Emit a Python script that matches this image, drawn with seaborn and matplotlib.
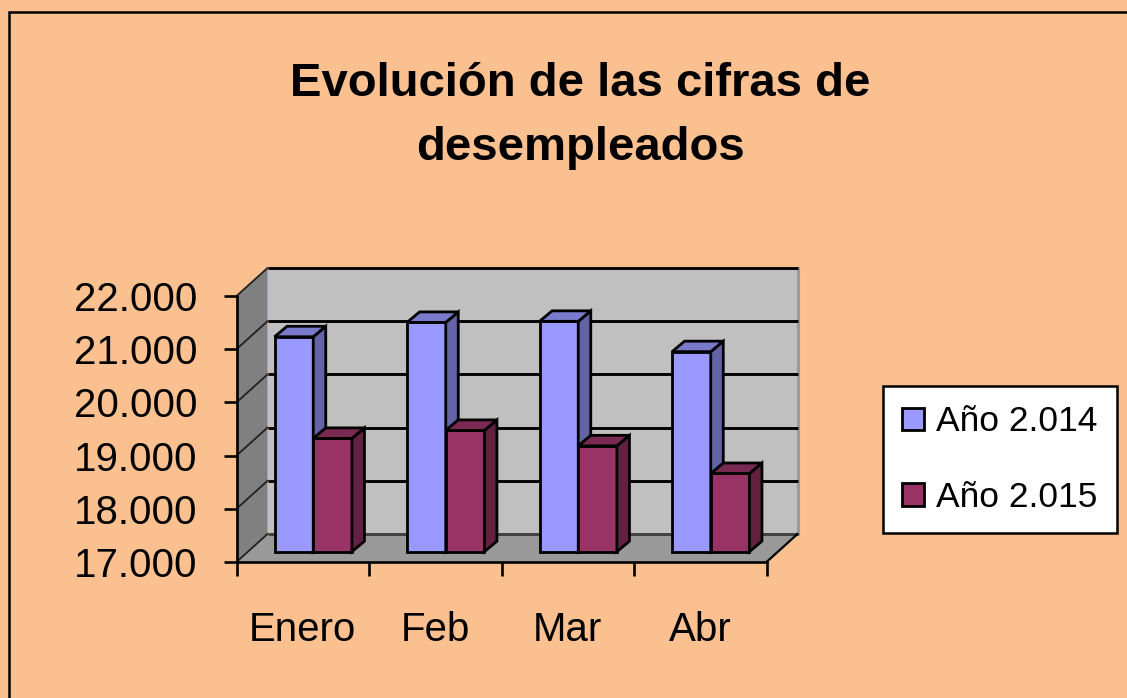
import matplotlib
matplotlib.use("Agg")
import matplotlib.pyplot as plt
import seaborn as sns
import pandas as pd
import numpy as np
from matplotlib import font_manager as fm
from matplotlib.patches import Polygon, Rectangle, Patch
from matplotlib.lines import Line2D
from matplotlib.transforms import ScaledTranslation
from matplotlib.ticker import FixedLocator, FuncFormatter
import matplotlib.colors as mcolors

# ---------------- data ----------------
months = ["Enero", "Feb", "Mar", "Abr"]
series = ["Año 2.014", "Año 2.015"]
values_2014 = [21040, 21310, 21330, 20760]
values_2015 = [19130, 19280, 18990, 18470]
y_ticks = [17000, 18000, 19000, 20000, 21000, 22000]
title = "Evolución de las cifras de\ndesempleados"
colors = {"Año 2.014": "#9999FF", "Año 2.015": "#993366"}

df = pd.DataFrame({
    "Mes": months * 2,
    "Valor": values_2014 + values_2015,
    "Serie": [series[0]] * 4 + [series[1]] * 4,
})

# ---------------- fonts ----------------
names = {f.name for f in fm.fontManager.ttflist}
NARROW = "Liberation Sans Narrow" in names
if NARROW:
    lab_font = ["Liberation Sans Narrow", "Liberation Sans", "DejaVu Sans"]
    YS, XS, LS = 32, 34, 30
else:
    lab_font = ["Liberation Sans", "DejaVu Sans"]
    YS, XS, LS = 29, 29, 25.5
title_font = ["Liberation Sans", "DejaVu Sans"]

BG = "#FAC090"
W, H = 1127, 698
fig = plt.figure(figsize=(W / 100, H / 100), dpi=100, facecolor=BG)

# front plane of the 3D box (pixels in image coordinates)
FX0, FX1 = 236.5, 766.5
FY_TOP, FY_BOT = 296.0, 562.0
ax = fig.add_axes([FX0 / W, 1 - FY_BOT / H, (FX1 - FX0) / W, (FY_BOT - FY_TOP) / H])
ax.set_facecolor("none")

YMIN, YMAX = y_ticks[0], y_ticks[-1]
XMIN, XMAX = -0.5, len(months) - 0.5
pxx = (FX1 - FX0) / (XMAX - XMIN)
pxy = (FY_BOT - FY_TOP) / (YMAX - YMIN)

def ddx(px):
    return px / pxx

def ddy(px):
    return px / pxy

BK = (31, 28)      # back wall offset (px)
BP = (10.5, 10.3)  # bar plane offset (px)
BD = (12.5, 10.5)  # bar depth (px)
EDGE = 2.0

sns.barplot(data=df, x="Mes", y="Valor", hue="Serie", palette=colors,
            width=0.584, saturation=1, edgecolor="black", linewidth=EDGE,
            legend=False, ax=ax)
bars = [p for p in ax.patches if isinstance(p, Rectangle) and np.isfinite(p.get_height())]

ax.set_xlim(XMIN, XMAX)
ax.set_ylim(YMIN, YMAX)

# ---------------- walls and floor ----------------
bkx, bky = ddx(BK[0]), ddy(BK[1])
back = Polygon([(XMIN + bkx, YMIN + bky), (XMAX + bkx, YMIN + bky),
                (XMAX + bkx, YMAX + bky), (XMIN + bkx, YMAX + bky)],
               closed=True, fc="#C0C0C0", ec="none", zorder=0.2, clip_on=False)
left = Polygon([(XMIN, YMIN), (XMIN, YMAX), (XMIN + bkx, YMAX + bky), (XMIN + bkx, YMIN + bky)],
               closed=True, fc="#808080", ec="none", zorder=0.2, clip_on=False)
floor = Polygon([(XMIN, YMIN), (XMAX, YMIN), (XMAX + bkx, YMIN + bky), (XMIN + bkx, YMIN + bky)],
                closed=True, fc="#999999", ec="none", zorder=0.3, clip_on=False)
for p in (back, left, floor):
    ax.add_patch(p)

for t in y_ticks:
    c = "black" if t > YMIN else "#404040"
    ax.add_line(Line2D([XMIN + bkx, XMAX + bkx], [t + bky, t + bky], color=c, lw=2.1,
                       zorder=0.5, clip_on=False, solid_capstyle="butt"))
    ax.add_line(Line2D([XMIN, XMIN + bkx], [t, t + bky], color="#202020", lw=1.3,
                       zorder=0.5, clip_on=False))
ax.add_line(Line2D([XMAX + bkx, XMAX + bkx], [YMIN + bky, YMAX + bky], color="#9a9a9a",
                   lw=2.2, zorder=0.45, clip_on=False))
ax.add_line(Line2D([XMAX, XMAX + bkx], [YMIN, YMIN + bky], color="black", lw=1.6,
                   zorder=0.5, clip_on=False))

# ---------------- pseudo-3D bars ----------------
def shade(c, f):
    r, g, b, a = mcolors.to_rgba(c)
    return (r * f, g * f, b * f, 1)

tr = ax.transData + ScaledTranslation(BP[0] / 100, BP[1] / 100, fig.dpi_scale_trans)
dxb, dyb = ddx(BD[0]), ddy(BD[1])
for k, p in enumerate(sorted(bars, key=lambda r: r.get_x())):
    x, w = p.get_x(), p.get_width()
    top = p.get_y() + p.get_height()
    p.set_y(YMIN)
    p.set_height(top - YMIN)
    p.set_transform(tr)
    p.set_clip_on(False)
    p.set_joinstyle("miter")
    z = 3 + k * 0.1
    p.set_zorder(z)
    fc = p.get_facecolor()
    side = Polygon([(x + w, YMIN), (x + w + dxb, YMIN + dyb), (x + w + dxb, top + dyb), (x + w, top)],
                   closed=True, fc=shade(fc, 0.65), ec="black", lw=EDGE, transform=tr,
                   zorder=z + 0.01, clip_on=False, joinstyle="miter")
    topf = Polygon([(x, top), (x + w, top), (x + w + dxb, top + dyb), (x + dxb, top + dyb)],
                   closed=True, fc=shade(fc, 0.8), ec="black", lw=EDGE, transform=tr,
                   zorder=z + 0.02, clip_on=False, joinstyle="miter")
    ax.add_patch(side)
    ax.add_patch(topf)

# ---------------- axes ----------------
for s in ("top", "right"):
    ax.spines[s].set_visible(False)
for s in ("left", "bottom"):
    ax.spines[s].set_color("black")
    ax.spines[s].set_linewidth(1.9)
    ax.spines[s].set_zorder(2.5)

ax.yaxis.set_major_locator(FixedLocator(y_ticks))
ax.yaxis.set_major_formatter(FuncFormatter(lambda v, _: f"{int(round(v)):,}".replace(",", ".")))
ax.tick_params(axis="y", which="major", length=9.4, width=1.9, direction="out",
               pad=18.7, labelsize=YS, colors="black")
for lab in ax.get_yticklabels():
    lab.set_fontfamily(lab_font)

ax.set_xticks(np.arange(XMIN, XMAX + 0.01, 1.0))
ax.set_xticklabels([])
ax.set_xticks(range(len(months)), minor=True)
ax.set_xticklabels(months, minor=True, fontfamily=lab_font, fontsize=XS)
ax.tick_params(axis="x", which="major", length=10, width=1.9, direction="out")
ax.tick_params(axis="x", which="minor", length=0, pad=35)
ax.set_xlabel("")
ax.set_ylabel("")
ax.grid(False)

# ---------------- legend ----------------
handles = [Patch(facecolor=colors[s], edgecolor="black", linewidth=2.0) for s in series]
leg = fig.legend(handles, series, loc="upper left", bbox_to_anchor=(883 / W, 1 - 386 / H),
                 frameon=True, fancybox=False, framealpha=1, facecolor="white",
                 edgecolor="black", borderaxespad=0, borderpad=0.55,
                 handlelength=0.6, handleheight=0.6, handletextpad=0.35,
                 labelspacing=1.2, prop={"family": lab_font, "size": LS})
leg.get_frame().set_linewidth(1.8)

# ---------------- title ----------------
fig.text(580 / W, 1 - 160 / H, title, ha="center", va="baseline", fontsize=34,
         fontweight="bold", fontfamily=title_font, linespacing=1.6, color="black")

# chart area border (left and top edges visible)
fig.add_artist(Rectangle((9 / W, -0.5), 2, 1 - 12 / H + 0.5, transform=fig.transFigure,
                         fill=False, ec="black", lw=1.8))

fig.savefig("out.png", dpi=100, facecolor=BG)
